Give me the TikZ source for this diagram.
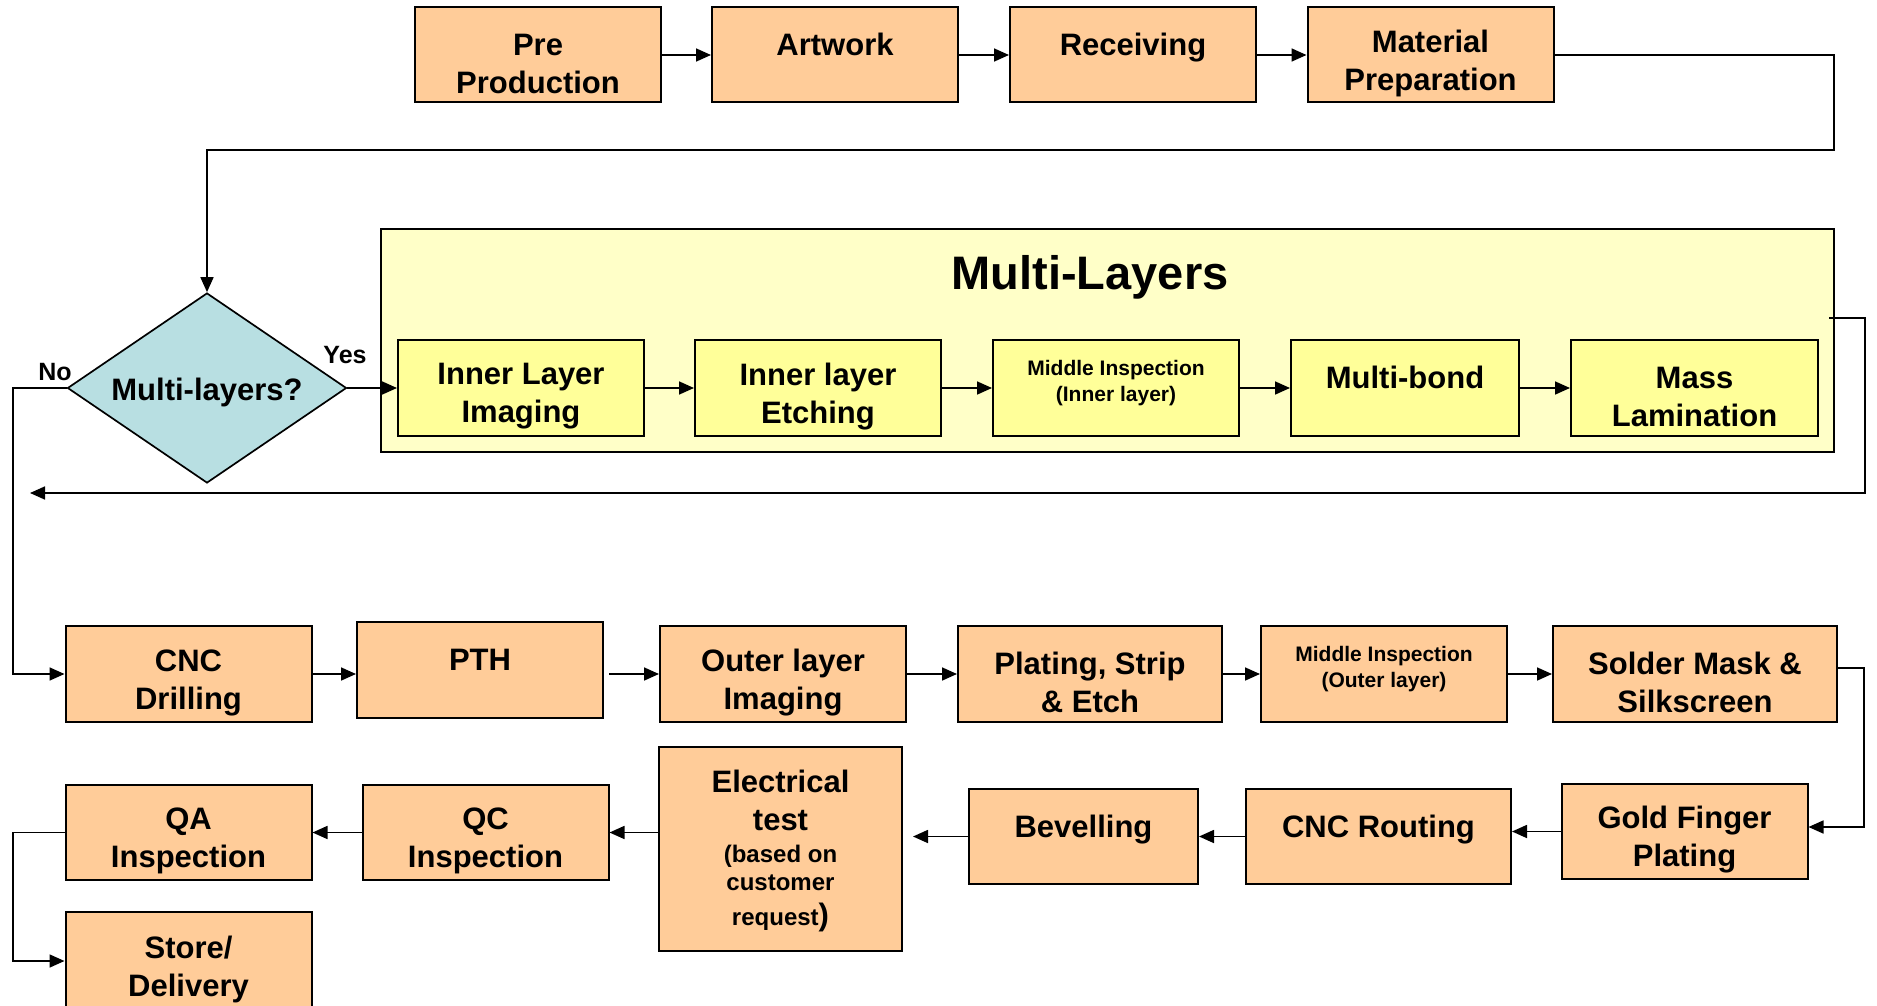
\documentclass[tikz,border=0pt]{standalone}
\usepackage{fontspec}
\setmainfont{Liberation Sans}
\usetikzlibrary{arrows.meta,shapes.geometric}
\definecolor{peach}{HTML}{FFCC99}
\definecolor{lyellow}{HTML}{FFFF99}
\definecolor{paleyel}{HTML}{FFFFC8}
\definecolor{dteal}{HTML}{B8DFE2}
\begin{document}
\begin{tikzpicture}[x=1pt,y=-1pt,
  box/.style={draw=black, line width=2pt, fill=peach, minimum width=246pt, minimum height=95pt, inner sep=0pt},
  ybox/.style={box, fill=lyellow, minimum height=96pt},
  txt/.style={font=\bfseries\fontsize{31}{38}\selectfont, align=center, yshift=-8.5pt},
  etxt/.style={font=\bfseries\fontsize{31}{38}\selectfont, align=center, yshift=-2pt},
  stxt/.style={font=\bfseries\fontsize{21}{26}\selectfont, align=center, yshift=5pt},
  lbl/.style={font=\bfseries\fontsize{25}{30}\selectfont, inner sep=0pt},
  arr/.style={line width=1.7pt, -{Triangle[length=15pt,width=13pt]}},
  ln/.style={line width=1.7pt}]
\useasboundingbox (0,0) rectangle (1877,1006);
\fill[white] (0,0) rectangle (1877,1006);
\clip (0,0) rectangle (1877,1006);

% top row
\node[box, label={[txt]center:{Pre\\Production}}] (pre) at (538,55) {};
\node[box, label={[txt]center:{Artwork\\~}}] (art) at (835,55) {};
\node[box, label={[txt]center:{Receiving\\~}}] (rec) at (1133,55) {};
\node[box, label={[txt]center:{Material\\Preparation}}] (mat) at (1430.5,55) {};

% multi-layer container
\node[draw=black, line width=2pt, fill=paleyel, minimum width=1453pt, minimum height=223pt, inner sep=0pt] (cont) at (1107.5,340.5) {};
\node[font=\bfseries\fontsize{47}{56}\selectfont, inner sep=0pt] (title) at (1090,277) {Multi-Layers};

\node[ybox, label={[txt]center:{Inner Layer\\Imaging}}] (ili) at (521,388) {};
\node[ybox, label={[txt]center:{Inner layer\\Etching}}] (ile) at (818,388) {};
\node[ybox, label={[stxt]center:{Middle Inspection\\(Inner layer)}}] (mii) at (1116,388) {};
\node[ybox, minimum width=228pt, label={[txt]center:{Multi-bond\\~}}] (mb) at (1405,388) {};
\node[ybox, minimum width=247pt, label={[txt]center:{Mass\\Lamination}}] (ml) at (1694.5,388) {};

% decision
\node[diamond, draw=black, line width=1.7pt, fill=dteal, aspect=1.47, minimum width=279pt, minimum height=190pt, inner sep=0pt,
  label={[font=\bfseries\fontsize{31}{38}\selectfont, yshift=-4pt]center:Multi-layers?}] (dia) at (207,388) {};
\node[lbl] (yes) at (345,355) {Yes};
\node[lbl] (no) at (55,372) {No};

% third row
\node[box, minimum height=96pt, label={[txt]center:{CNC\\Drilling}}] (cnc) at (188.5,674) {};
\node[box, minimum height=96pt, label={[txt]center:{PTH\\~}}] (pth) at (480,670) {};
\node[box, minimum height=96pt, label={[txt]center:{Outer layer\\Imaging}}] (oli) at (783,674) {};
\node[box, minimum height=96pt, minimum width=264pt, label={[txt]center:{Plating, Strip\\\& Etch}}] (pse) at (1090,674) {};
\node[box, minimum height=96pt, label={[stxt]center:{Middle Inspection\\(Outer layer)}}] (mio) at (1384,674) {};
\node[box, minimum height=96pt, minimum width=284pt, label={[txt]center:{Solder Mask \&\\Silkscreen}}] (sms) at (1695,674) {};

% fourth row
\node[box, label={[txt]center:{Gold Finger\\Plating}}] (gfp) at (1684.5,831.5) {};
\node[box, minimum width=265pt, label={[txt]center:{CNC Routing\\~}}] (cncr) at (1378.5,836.5) {};
\node[box, minimum width=229pt, label={[txt]center:{Bevelling\\~}}] (bev) at (1083.5,836.5) {};
\node[box, minimum width=243pt, minimum height=204pt, label={[etxt]center:{Electrical\\test\\[-6pt]{\fontsize{24}{28}\selectfont (based on}\\[-10pt]{\fontsize{24}{28}\selectfont customer}\\[-3pt]{\fontsize{24}{28}\selectfont request})}}] (elec) at (780.5,849) {};
\node[box, label={[txt]center:{QC\\Inspection}}] (qc) at (485.5,832.5) {};
\node[box, label={[txt]center:{QA\\Inspection}}] (qa) at (188.5,832.5) {};
\node[box, minimum height=98pt, label={[txt]center:{Store/\\Delivery}}] (store) at (188.5,961) {};

% connectors, top
\draw[arr] (pre) -- (art);
\draw[arr] (art) -- (rec);
\draw[arr] (rec) -- (mat);
\coordinate (r1) at (1834,150);
\draw[arr] (mat.east) -| (r1) -| (dia.north);

% multi-layer chain
\draw[arr] (dia.east) -- (ili.west);
\draw[arr] (ili) -- (ile);
\draw[arr] (ile) -- (mii);
\draw[arr] (mii) -- (mb);
\draw[arr] (mb) -- (ml);
\coordinate (r2) at (1865,493);
\coordinate (r3) at (30,493);
\draw[arr] ([xshift=-6pt,yshift=22.5pt]cont.east) -| (r2) -- (r3);

% No branch
\coordinate (l1) at (13,388);
\draw[arr] (dia.west) -- (l1) |- (cnc.west);

% third row
\draw[arr] (cnc.east) -- (cnc.east -| pth.west);
\coordinate (p1) at ([xshift=5pt]pth.east);
\draw[arr] (p1 |- oli.west) -- (oli.west);
\draw[arr] (oli) -- (pse);
\draw[arr] (pse) -- (mio);
\draw[arr] (mio) -- (sms);
\coordinate (r4) at (1864,668);
\coordinate (r5) at (1864,827);
\draw[arr] (sms.east |- r4) -- (r4) -- (r5) -- (r5 -| gfp.east);

% fourth row
\draw[arr] (gfp.west) -- (gfp.west -| cncr.east);
\draw[arr] (cncr) -- (bev);
\coordinate (e1) at ([xshift=10pt]elec.east);
\draw[arr] (bev.west) -- (bev.west -| e1);
\draw[arr] (elec.west |- qc.east) -- (qc.east);
\draw[arr] (qc) -- (qa);
\coordinate (l2) at (13,832.5);
\draw[arr] (qa.west) -- (l2) |- (store.west);
\end{tikzpicture}
\end{document}
